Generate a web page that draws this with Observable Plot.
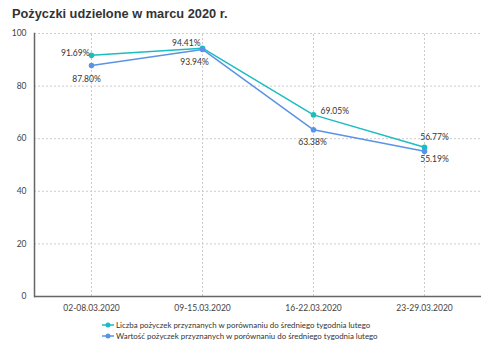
<!DOCTYPE html>
<html><head><meta charset="utf-8">
<script src="https://cdn.jsdelivr.net/npm/d3@7"></script>
<script src="https://cdn.jsdelivr.net/npm/@observablehq/plot@0.6"></script>
<style>
body{margin:0;background:#fff;width:500px;height:354px;overflow:hidden;font-family:Lato,sans-serif}
#title{height:28px;padding-left:12px;font:bold 12.8px "Liberation Sans",Arial,sans-serif;color:#333;line-height:28px}
#legend{font:7.9px Lato,sans-serif;color:#333;padding-left:102px;margin-top:3.5px}
.li{display:flex;align-items:center;height:11px}
.li svg{margin-right:2px}
</style></head>
<body>
<div id="title">Pożyczki udzielone w marcu 2020 r.</div>
<div id="chart"></div>
<div id="legend"></div>
<script>
const weeks = ["02-08.03.2020","09-15.03.2020","16-22.03.2020","23-29.03.2020"];
const liczba = [91.69, 94.41, 69.05, 56.77];
const wartosc = [87.80, 93.94, 63.38, 55.19];
const seriesNames = [
  "Liczba pożyczek przyznanych w porównaniu do średniego tygodnia lutego",
  "Wartość pożyczek przyznanych w porównaniu do średniego tygodnia lutego"
];
const colors = ["#1bbdbf", "#5b93e6"];
const yTicks = [0,20,40,60,80,100];

// label placement: [textAnchor, dx, dy] per series per week
const placeLiczba = [["end",-2,-2],["end",-2,-5],["start",7,-4],["middle",10,-10]];
const placeWartosc = [["middle",-5,14],["middle",-8,13],["middle",-1,12],["middle",10,8]];

const data = [];
weeks.forEach((w,i)=>{
  data.push({week:w, value:liczba[i], series:seriesNames[0], place:placeLiczba[i]});
  data.push({week:w, value:wartosc[i], series:seriesNames[1], place:placeWartosc[i]});
});

const fmt = v => v.toFixed(2) + "%";
const labelMarks = data.map(d => Plot.text([d], {
  x:"week", y:"value", text: r => fmt(r.value),
  textAnchor: d.place[0], dx: d.place[1], dy: d.place[2],
  fill:"#333", fontSize: 8.5, fontFamily:"Lato"
}));

const chart = Plot.plot({
  width: 500, height: 288,
  marginLeft: 34, marginRight: 19, marginTop: 5, marginBottom: 20,
  style: {fontFamily:"Lato", fontSize:"8.5px", color:"#444", background:"#fff"},
  x: {type:"point", domain: weeks, padding: 0.5, label: null},
  y: {domain:[0,100], label: null},
  color: {domain: seriesNames, range: colors},
  marks: [
    Plot.ruleY(yTicks.filter(t=>t>0), {stroke:"#ccc", strokeDasharray:"2,2"}),
    Plot.ruleX(weeks, {x: d=>d, y1:0, y2:100, stroke:"#ccc", strokeDasharray:"2,2"}),
    Plot.axisY({ticks: yTicks, tickSize:0, tickPadding:8, fontSize:8.5}),
    Plot.axisX({tickSize:0, tickPadding:8, fontSize:8.5}),
    Plot.ruleY([0], {stroke:"#666", strokeWidth:1.5}),
    Plot.frame({anchor:"left", stroke:"#666", strokeWidth:1.5}),
    Plot.line(data, {x:"week", y:"value", stroke:"series", strokeWidth:1.5}),
    Plot.dot(data, {x:"week", y:"value", fill:"series", r:2.8}),
    ...labelMarks
  ]
});
document.getElementById("chart").appendChild(chart);

const legend = document.getElementById("legend");
seriesNames.forEach((s,i)=>{
  const div = document.createElement("div");
  div.className = "li";
  div.innerHTML = `<svg width="12" height="8"><line x1="0" x2="12" y1="4" y2="4" stroke="${colors[i]}" stroke-width="1.5"/><circle cx="6" cy="4" r="2.5" fill="${colors[i]}"/></svg><span>${s}</span>`;
  legend.appendChild(div);
});
</script>
</body></html>
